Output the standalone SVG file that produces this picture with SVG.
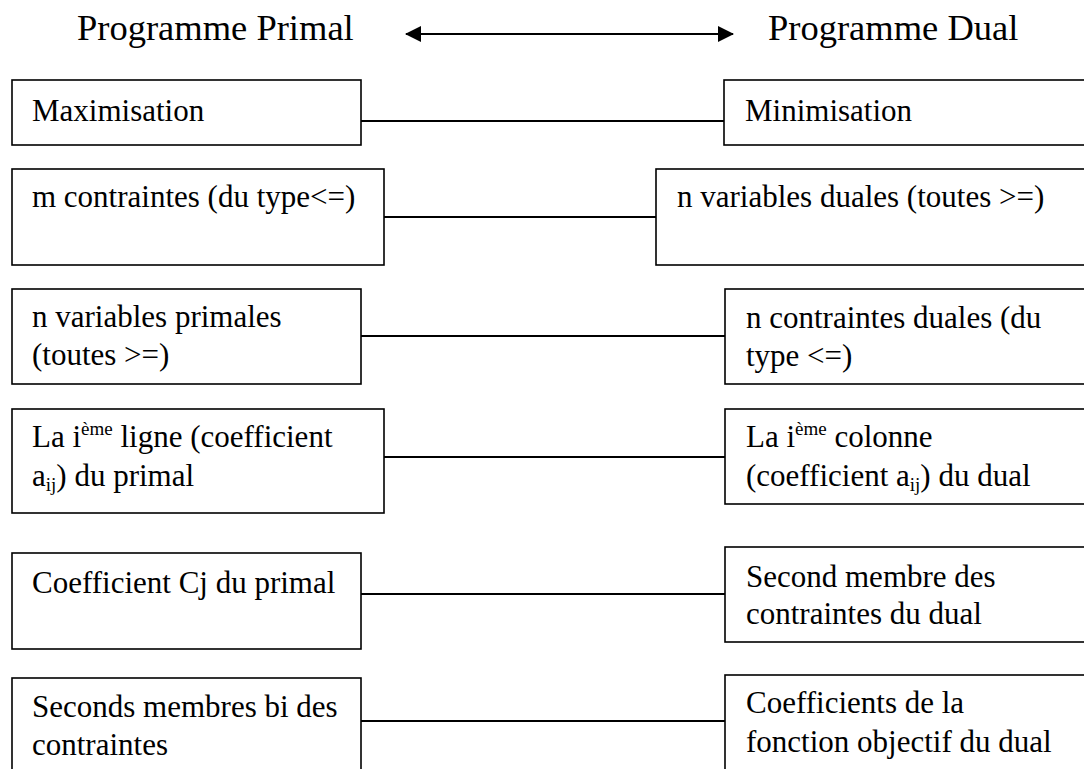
<svg xmlns="http://www.w3.org/2000/svg" width="1084" height="769" viewBox="0 0 1084 769">
<defs>
<marker id="ah" viewBox="0 0 16 16" refX="15" refY="8" markerWidth="16" markerHeight="16" markerUnits="userSpaceOnUse" orient="auto-start-reverse">
<path d="M0,0 L16,8 L0,16 Z" fill="#000"/>
</marker>
</defs>
<style>
.box{fill:#fff;stroke:#000;stroke-width:1.6}
.t{font-family:"Liberation Serif","Times New Roman",serif;font-size:31px;fill:#000}
.title{font-family:"Liberation Serif","Times New Roman",serif;font-size:36.5px;fill:#000}
.sup{font-size:19px}
.conn{stroke:#000;stroke-width:1.8;fill:none}
</style>
<rect width="1084" height="769" fill="#fff"/>
<g id="title-primal"><text class="title" x="77" y="40">Programme Primal</text></g>
<g id="title-dual"><text class="title" x="768" y="40">Programme Dual</text></g>
<g id="connectors">
<line class="conn" x1="406" y1="34" x2="733" y2="34" marker-start="url(#ah)" marker-end="url(#ah)"/>
<line class="conn" x1="361" y1="121" x2="724" y2="121"/>
<line class="conn" x1="384" y1="217" x2="656" y2="217"/>
<line class="conn" x1="361" y1="336" x2="725" y2="336"/>
<line class="conn" x1="384" y1="457" x2="725" y2="457"/>
<line class="conn" x1="361" y1="594" x2="725" y2="594"/>
<line class="conn" x1="361" y1="721" x2="725" y2="721"/>
</g>
<g id="n-max"><rect class="box" x="12" y="80" width="349" height="65"/><text class="t" x="32" y="121">Maximisation</text></g>
<g id="n-min"><rect class="box" x="724" y="80" width="370" height="65"/><text class="t" x="745" y="121">Minimisation</text></g>
<g id="n-mcontr"><rect class="box" x="12" y="169" width="372" height="96"/><text class="t" x="32" y="207">m contraintes (du type&lt;=)</text></g>
<g id="n-nvardual"><rect class="box" x="656" y="169" width="438" height="96"/><text class="t" x="677" y="207">n variables duales (toutes &gt;=)</text></g>
<g id="n-nvarprim"><rect class="box" x="12" y="289" width="349" height="95"/><text class="t" x="32" y="327">n variables primales</text><text class="t" x="32" y="365">(toutes &gt;=)</text></g>
<g id="n-ncontrdual"><rect class="box" x="725" y="289" width="369" height="95"/><text class="t" x="746" y="328">n contraintes duales (du</text><text class="t" x="746" y="366">type &lt;=)</text></g>
<g id="n-ligne"><rect class="box" x="12" y="409" width="372" height="104"/><text class="t" x="32" y="447">La i<tspan class="sup" dy="-12">ème</tspan><tspan dy="12"> ligne (coefficient</tspan></text><text class="t" x="32" y="486">a<tspan class="sup" dy="5">ij</tspan><tspan dy="-5">) du primal</tspan></text></g>
<g id="n-colonne"><rect class="box" x="725" y="409" width="369" height="95"/><text class="t" x="746" y="447">La i<tspan class="sup" dy="-12">ème</tspan><tspan dy="12"> colonne</tspan></text><text class="t" x="746" y="486">(coefficient a<tspan class="sup" dy="5">ij</tspan><tspan dy="-5">) du dual</tspan></text></g>
<g id="n-cj"><rect class="box" x="12" y="553" width="349" height="96"/><text class="t" x="32" y="593">Coefficient Cj du primal</text></g>
<g id="n-second"><rect class="box" x="725" y="547" width="369" height="95"/><text class="t" x="746" y="587">Second membre des</text><text class="t" x="746" y="624">contraintes du dual</text></g>
<g id="n-bi"><rect class="box" x="12" y="678" width="349" height="100"/><text class="t" x="32" y="717">Seconds membres bi des</text><text class="t" x="32" y="755">contraintes</text></g>
<g id="n-coefobj"><rect class="box" x="725" y="675" width="369" height="100"/><text class="t" x="746" y="713">Coefficients de la</text><text class="t" x="746" y="752">fonction objectif du dual</text></g>
</svg>
